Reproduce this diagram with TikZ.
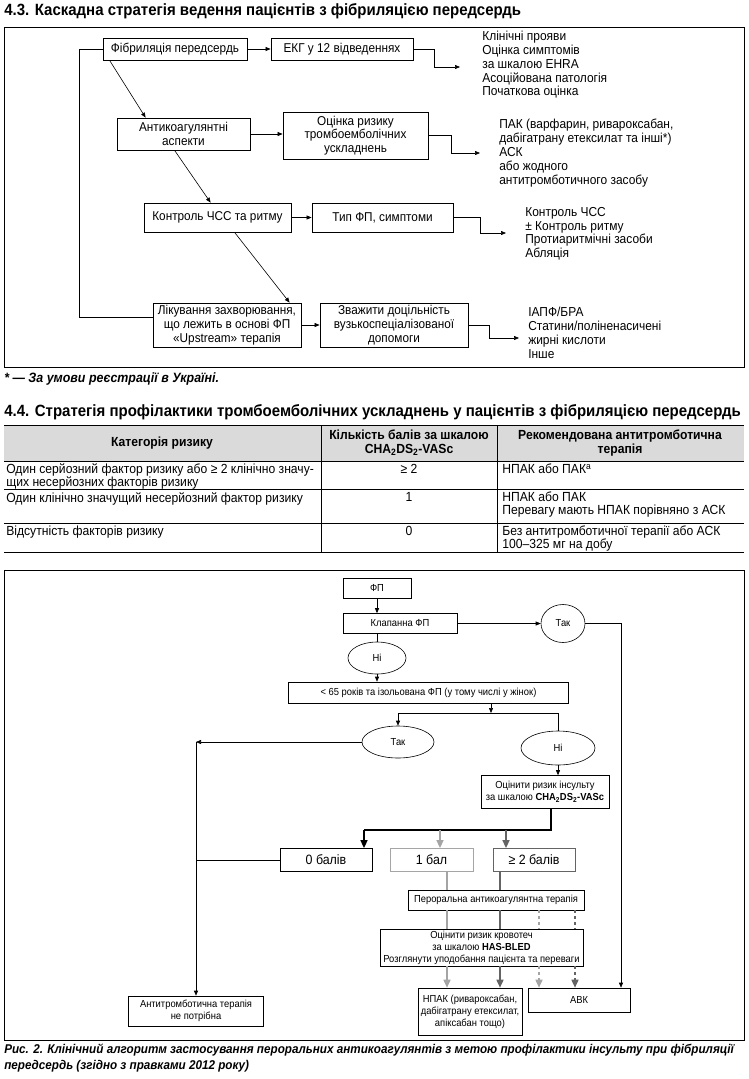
\documentclass[tikz,border=0pt]{standalone}
\usepackage{fontspec}
\setmainfont{Liberation Sans}
\newfontfamily\nrw[FakeStretch=0.92]{Liberation Sans}
\usetikzlibrary{arrows.meta,shapes.geometric}
\definecolor{lgray}{RGB}{165,165,165}
\definecolor{dgray}{RGB}{100,100,100}
\definecolor{hgray}{RGB}{218,218,218}

\begin{document}
\begin{tikzpicture}[x=1pt,y=-1pt,line width=.6pt,
  box/.style={draw,line width=.8pt,inner sep=0pt,align=center,font=\nrw\fontsize{12.8}{13.8}\selectfont},
  lst/.style={anchor=north west,inner sep=0pt,align=left,font=\nrw\fontsize{13}{13.8}\selectfont},
  arr/.style={-{Triangle[length=5pt,width=4pt]}},
  ttl/.style={anchor=west,inner sep=0pt,font=\nrw\bfseries\fontsize{16.3}{18}\selectfont},
  note/.style={anchor=west,inner sep=0pt,font=\nrw\bfseries\itshape\fontsize{13.5}{15}\selectfont},
  cell/.style={anchor=north west,inner sep=0pt,align=left,font=\nrw\fontsize{13.2}{13}\selectfont},
  head/.style={inner sep=0pt,align=center,font=\nrw\bfseries\fontsize{13.2}{13.5}\selectfont},
  fbox/.style={draw,line width=.6pt,inner sep=0pt,align=center,font=\nrw\fontsize{10.2}{12}\selectfont},
  oval/.style={ellipse,draw,line width=.6pt,inner sep=0pt,font=\nrw\fontsize{10.2}{12}\selectfont},
  score/.style={draw,line width=.8pt,inner sep=0pt,minimum width=92,minimum height=23,font=\nrw\fontsize{13.5}{14}\selectfont},
  barr/.style={line width=1.6pt,-{Triangle[length=8pt,width=7pt]}},
  larr/.style={lgray,line width=1.5pt,-{Triangle[length=8pt,width=7pt]}},
  darr/.style={dgray,line width=1.5pt,-{Triangle[length=8pt,width=7pt]}},
  lline/.style={lgray,line width=1.5pt},
  dline/.style={dgray,line width=1.5pt}]
\useasboundingbox (0,0) rectangle (748,1079);
\fill[white] (0,0) rectangle (748,1079);

% 4.3
\node[ttl] (t1) at (4,11) {4.3. Каскадна стратегія ведення пацієнтів з фібриляцією передсердь};
\draw[line width=1pt] (4,27) rectangle (744,367);

\node[box,minimum width=144,minimum height=22] (fib) at (175,49) {Фібриляція передсердь};
\node[box,minimum width=142,minimum height=22] (ekg) at (342,49) {ЕКГ у 12 відведеннях};
\node[box,minimum width=133,minimum height=32] (anti) at (183.5,134) {Антикоагулянтні\\аспекти};
\node[box,minimum width=145,minimum height=47] (risk) at (355.5,135.5) {Оцінка ризику\\тромбоемболічних\\ускладнень};
\node[box,minimum width=147,minimum height=29] (rate) at (217.5,217.5) {Контроль ЧСС та ритму};
\node[box,minimum width=141,minimum height=29] (type) at (382.5,217.5) {Тип ФП, симптоми};
\node[box,minimum width=148,minimum height=44] (treat) at (227,325) {Лікування захворювання,\\що лежить в основі ФП\\«Upstream» терапія};
\node[box,minimum width=148,minimum height=44] (help) at (394,325) {Зважити доцільність\\вузькоспеціалізованої\\допомоги};

\node[lst] (sym) at (482,31) {Клінічні прояви\\Оцінка симптомів\\за шкалою EHRA\\Асоційована патологія\\Початкова оцінка};
\node[lst] (drug) at (499,119) {ПАК (варфарин, ривароксабан,\\дабігатрану етексилат та інші*)\\АСК\\або жодного\\антитромботичного засобу};
\node[lst] (ctrl) at (525,207) {Контроль ЧСС\\± Контроль ритму\\Протиаритмічні засоби\\Абляція};
\node[lst] (ups) at (528,307) {ІАПФ/БРА\\Статини/поліненасичені\\жирні кислоти\\Інше};

\coordinate (s1) at (460,67);
\coordinate (s2) at (480,153);
\coordinate (s3) at (506,233);
\coordinate (s4) at (519,338);
\draw[arr] (fib.east) -- (ekg.west);
\draw[arr] (anti.east) -- (anti.east -| risk.west);
\draw[arr] (rate.east) -- (type.west);
\draw[arr] (treat.east) -- (treat.east -| help.west);
\draw[arr] (ekg.east) -- ++(21,0) |- (s1);
\draw[arr] (risk.east) -- ++(23,0) |- (s2);
\draw[arr] (type.east) -- ++(27,0) |- (s3);
\draw[arr] (help.east) -- ++(21,0) |- (s4);
\draw[arr] ([xshift=7pt]fib.south west) -- ([xshift=29pt]anti.north west);
\draw[arr] ([xshift=58pt]anti.south west) -- ([xshift=67pt]rate.north west);
\draw[arr] ([xshift=91pt]rate.south west) -- ([xshift=137pt]treat.north west);
\draw (fib.west) -- ++(-23,0) |- ([yshift=8pt]treat.west);

\node[note] (fn) at (4,379) {* — За умови реєстрації в Україні.};

% 4.4
\node[ttl] (t2) at (4,412) {4.4. Стратегія профілактики тромбоемболічних ускладнень у пацієнтів з фібриляцією передсердь};
\fill[hgray] (4,425) rectangle (744,461);
\draw[line width=1pt] (4,425) -- (744,425);
\draw[line width=1pt] (4,552) -- (744,552);
\foreach \y in {461,489.5,523.5} {
    \draw[line width=.5pt] (4,\y) -- (744,\y);
}
\draw[line width=.5pt] (321,425) -- (321,552);
\draw[line width=.5pt] (497,425) -- (497,552);

\node[head] (h1) at (162,443) {Категорія ризику};
\node[head] (h2) at (409,443) {Кількість балів за шкалою\\CHA\textsubscript{2}DS\textsubscript{2}-VASc};
\node[head] (h3) at (620,443) {Рекомендована антитромботична\\терапія};

\node[cell] (r1a) at (6,463.5) {Один серйозний фактор ризику або ≥ 2 клінічно значу-\\щих несерйозних факторів ризику};
\node[cell] (r1b) at (409,463.5) [anchor=north] {≥ 2};
\node[cell] (r1c) at (502,463.5) {НПАК або ПАК\textsuperscript{а}};
\node[cell] (r2a) at (6,492) {Один клінічно значущий несерйозний фактор ризику};
\node[cell] (r2b) at (409,492) [anchor=north] {1};
\node[cell] (r2c) at (502,492) {НПАК або ПАК\\Перевагу мають НПАК порівняно з АСК};
\node[cell] (r3a) at (6,526) {Відсутність факторів ризику};
\node[cell] (r3b) at (409,526) [anchor=north] {0};
\node[cell] (r3c) at (502,526) {Без антитромботичної терапії або АСК\\100–325 мг на добу};

% flowchart
\draw[line width=1pt] (4,570) rectangle (744,1040);

\node[fbox,minimum width=68,minimum height=20] (fp) at (377,588) {ФП};
\node[fbox,minimum width=114,minimum height=20] (valv) at (400,623.5) {Клапанна ФП};
\node[oval,minimum width=44,minimum height=38] (tak1) at (563,623.5) {Так};
\node[oval,minimum width=58,minimum height=32] (ni1) at (377,658) {Ні};
\node[fbox,minimum width=280,minimum height=21] (age) at (428.5,692.5) {< 65 років та ізольована ФП (у тому числі у жінок)};
\node[oval,minimum width=72,minimum height=32] (tak2) at (398,742) {Так};
\node[oval,minimum width=74,minimum height=34] (ni2) at (558,748) {Ні};
\node[fbox,minimum width=128,minimum height=33] (stroke) at (545,792) {Оцінити ризик інсульту\\за шкалою \textbf{CHA\textsubscript{2}DS\textsubscript{2}-VASc}};
\node[score] (zero) at (326,860) {0 балів};
\node[score,draw=lgray,minimum width=83] (one) at (431.5,860) {1 бал};
\node[score,draw=dgray,minimum width=82] (two) at (534,860) {≥ 2 балів};
\node[fbox,minimum width=176,minimum height=20] (oral) at (496,900) {Пероральна антикоагулянтна терапія};
\node[fbox,minimum width=203,minimum height=37] (bleed) at (481.5,947.5) {Оцінити ризик кровотеч\\за шкалою \textbf{HAS-BLED}\\Розглянути уподобання пацієнта та переваги};
\node[fbox,minimum width=104,minimum height=47] (noac) at (470,1011.5) {НПАК (ривароксабан,\\дабігатрану етексилат,\\апіксабан тощо)};
\node[fbox,minimum width=102,minimum height=24] (abk) at (579,1000) {АВК};
\node[fbox,minimum width=135,minimum height=30] (none) at (196,1011) {Антитромботична терапія\\не потрібна};

\coordinate (xr) at (621,0);
\coordinate (split) at (491,713);
\coordinate (lft) at (196,742);
\coordinate (fork) at (551,830);
\coordinate (f0) at (364,830);
\coordinate (f1) at (440,830);
\coordinate (f2) at (506,830);
\coordinate (xa) at (447,0);
\coordinate (xb) at (500,0);
\coordinate (xc) at (539,0);
\coordinate (xd) at (575,0);

\draw[arr] (fp.south) -- (fp.south |- valv.north);
\draw (valv.south -| ni1) -- (ni1.north);
\draw[arr] (ni1.south) -- (ni1.south |- age.north);
\draw[arr] (valv.east) -- (tak1.west);
\draw[arr] (tak1.east) -| (abk.north -| xr);
\draw[arr] (age.south -| split) -- (split);
\draw (tak2.north |- split) -- (ni2.north |- split);
\draw[arr] (tak2.north |- split) -- (tak2.north);
\draw (ni2.north |- split) -- (ni2.north);
\draw[arr] (tak2.west) -- (lft);
\draw[arr] (lft) -- (none.north);
\draw (zero.west) -- (zero.west -| lft);
\draw[arr] (ni2.south) -- (ni2.south |- stroke.north);
\draw[line width=1.2pt] (stroke.south -| fork) -- (fork) -- (f0);
\draw[barr] (f0) -- (f0 |- zero.north);
\draw[larr] (f1) -- (f1 |- one.north);
\draw[darr] (f2) -- (f2 |- two.north);
\draw[lline] (one.south -| xa) -- (oral.north -| xa);
\draw[dline] (two.south -| xb) -- (oral.north -| xb);
\draw[lline] (oral.south -| xa) -- (bleed.north -| xa);
\draw[dline] (oral.south -| xb) -- (bleed.north -| xb);
\draw[lline,dashed] (oral.south -| xc) -- (bleed.north -| xc);
\draw[dline,dashed] (oral.south -| xd) -- (bleed.north -| xd);
\draw[larr] (bleed.south -| xa) -- (noac.north -| xa);
\draw[darr] (bleed.south -| xb) -- (noac.north -| xb);
\draw[larr,dashed] (bleed.south -| xc) -- (abk.north -| xc);
\draw[darr,dashed] (bleed.south -| xd) -- (abk.north -| xd);

\node[note,font=\nrw\bfseries\itshape\fontsize{12.7}{14}\selectfont] (cap1) at (4,1050) {Рис. 2. Клінічний алгоритм застосування пероральних антикоагулянтів з метою профілактики інсульту при фібриляції};
\node[note,font=\nrw\bfseries\itshape\fontsize{12.7}{14}\selectfont] (cap2) at (4,1066) {передсердь (згідно з правками 2012 року)};

\end{tikzpicture}
\end{document}
